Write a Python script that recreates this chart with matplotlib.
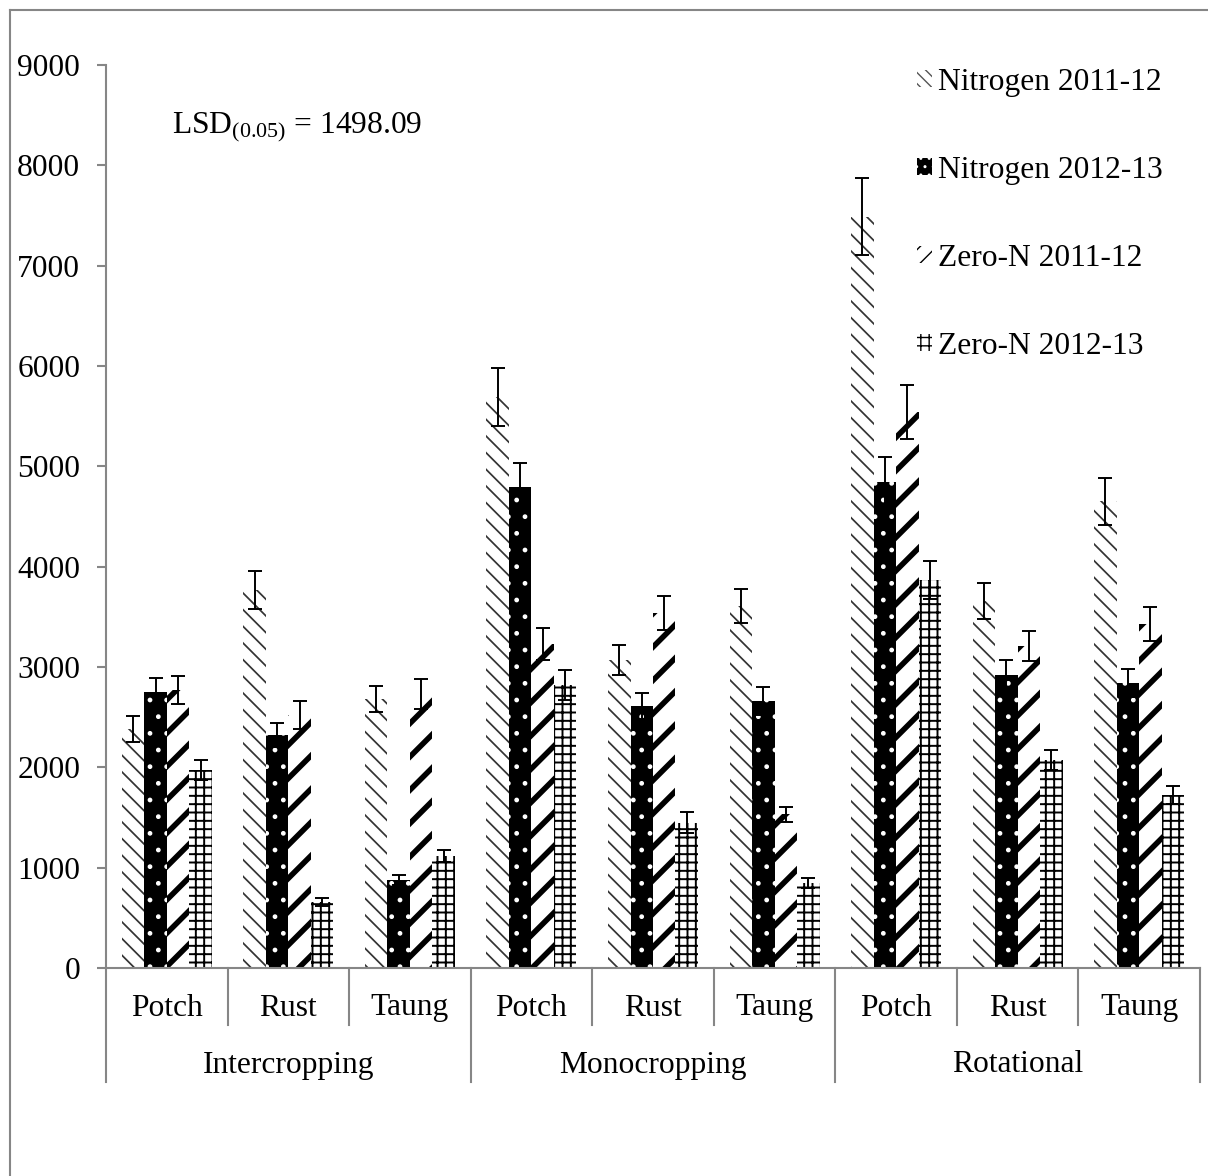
import numpy as np
import matplotlib
matplotlib.use('Agg')
import matplotlib.pyplot as plt
from matplotlib.lines import Line2D
from matplotlib.patches import Patch

plt.rcParams['font.family'] = ['Liberation Serif', 'DejaVu Serif']
plt.rcParams['mathtext.fontset'] = 'custom'
plt.rcParams['mathtext.rm'] = 'Liberation Serif'
plt.rcParams['mathtext.it'] = 'Liberation Serif:italic'

# grain yield per site and cropping system
systems = ['Intercropping', 'Monocropping', 'Rotational']
sites = ['Potch', 'Rust', 'Taung']
series = ['Nitrogen 2011-12', 'Nitrogen 2012-13', 'Zero-N 2011-12', 'Zero-N 2012-13']

n_2011 = [2380, 3770, 2680, 5690, 3070, 3610, 7490, 3660, 4650]
n_2011_err = [130, 190, 130, 290, 150, 170, 380, 180, 230]
n_2012 = [2750, 2320, 880, 4790, 2610, 2660, 4840, 2920, 2840]
n_2012_err = [140, 120, 50, 240, 130, 140, 250, 150, 140]
zero_2011 = [2770, 2520, 2730, 3230, 3540, 1530, 5540, 3210, 3430]
zero_2011_err = [140, 140, 150, 160, 170, 70, 270, 150, 170]
zero_2012 = [1975, 660, 1120, 2820, 1450, 850, 3870, 2070, 1720]
zero_2012_err = [100, 40, 60, 150, 100, 50, 190, 100, 90]

values = [n_2011, n_2012, zero_2011, zero_2012]
errors = [n_2011_err, n_2012_err, zero_2011_err, zero_2012_err]

# hatch, face, hatch colour, hatch width
styles = [
    ('\\\\', 'white', '#333333', 1.25),
    ('.', 'black', 'white', 1.0),
    ('/', 'white', 'black', 4.0),
    ('++', 'white', 'black', 1.4),
]
# the legend swatches are tiny, so they get a tighter pattern
key_styles = [
    ('\\\\\\', 'white', '#555555', 1.0),
    ('..', 'black', 'white', 1.0),
    ('//', 'white', 'black', 3.0),
    ('++', 'white', 'black', 1.6),
]

FS = 22.7
GRAY = '#868686'
W, H = 1208, 1176

fig = plt.figure(figsize=(W / 100, H / 100), dpi=100)
ax = fig.add_axes([106 / W, 1 - 968 / H, (1200 - 106) / W, (968 - 65) / H])

n_cat = len(systems) * len(sites)
x = np.arange(n_cat) + 0.5
width = 0.185

for k, (vals, errs, (hatch, face, hcol, hlw)) in enumerate(zip(values, errors, styles)):
    pos = x + (k - 1.5) * width
    with plt.rc_context({'hatch.linewidth': hlw, 'hatch.color': hcol}):
        bars = ax.bar(pos, vals, width, color=face, edgecolor=hcol, linewidth=0,
                      hatch=hatch)
    for b in bars:
        if hasattr(b, 'set_hatch_linewidth'):
            b.set_hatch_linewidth(hlw)
    ax.errorbar(pos, vals, yerr=errs, fmt='none', ecolor='black',
                elinewidth=1.4, capsize=5, capthick=1.4)

ax.set_xlim(0, n_cat)
ax.set_ylim(0, 9000)
ax.set_yticks(np.arange(0, 9001, 1000))
ax.tick_params(axis='y', direction='out', length=6.5, width=1.5, color=GRAY,
               labelsize=FS, pad=12)
ax.set_xticks([])
for s in ['top', 'right']:
    ax.spines[s].set_visible(False)
for s in ['left', 'bottom']:
    ax.spines[s].set_color(GRAY)
    ax.spines[s].set_linewidth(1.5)

# two-level category axis
trans = ax.get_xaxis_transform()
ax_h = 968 - 65
row1 = -(1025 - 968) / ax_h
row2 = -(1082 - 968) / ax_h
for i in range(n_cat + 1):
    bottom = row2 if i % 3 == 0 else row1
    ax.add_line(Line2D([i, i], [0, bottom], transform=trans, color=GRAY,
                       linewidth=1.5, clip_on=False))
for i in range(n_cat):
    ax.text(i + 0.5, -(1008 - 968) / ax_h, sites[i % 3], transform=trans,
            ha='center', va='center', fontsize=FS)
for g, name in enumerate(systems):
    ax.text(g * 3 + 1.5, -(1065 - 968) / ax_h, name, transform=trans,
            ha='center', va='center', fontsize=FS)

fig.text(172 / W, 1 - 127 / H, r'LSD$_{\mathrm{(0.05)}}$ = 1498.09',
         fontsize=FS, ha='left', va='center')

handles = []
for label, (hatch, face, hcol, hlw) in zip(series, key_styles):
    with plt.rc_context({'hatch.linewidth': hlw, 'hatch.color': hcol}):
        p = Patch(facecolor=face, edgecolor=hcol, linewidth=0, hatch=hatch, label=label)
    if hasattr(p, 'set_hatch_linewidth'):
        p.set_hatch_linewidth(hlw)
    handles.append(p)

fig.legend(handles=handles, loc='upper left', bbox_to_anchor=(917 / W, 1 - 68 / H),
           bbox_transform=fig.transFigure, frameon=False, fontsize=FS,
           handlelength=0.47, handleheight=0.47, handletextpad=0.2,
           labelspacing=1.87, borderpad=0, borderaxespad=0)

# outer frame
fig.add_artist(Line2D([10 / W, 10 / W], [0, 1 - 10 / H], color=GRAY, linewidth=1.5))
fig.add_artist(Line2D([10 / W, 1], [1 - 10 / H, 1 - 10 / H], color=GRAY, linewidth=1.5))

fig.savefig('out.png', dpi=100, facecolor='white')
